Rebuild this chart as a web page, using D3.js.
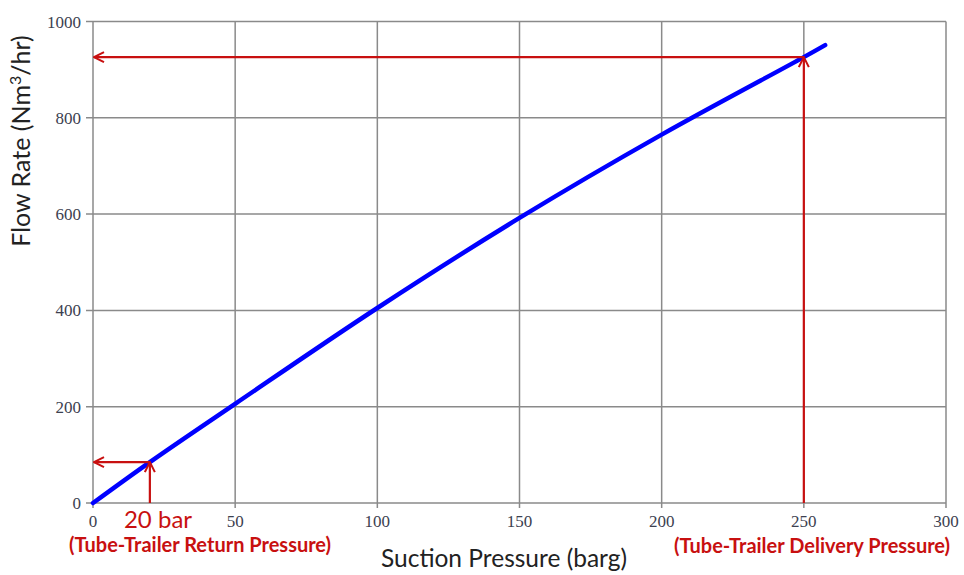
<!DOCTYPE html>
<html><head><meta charset="utf-8">
<script src="https://cdn.jsdelivr.net/npm/d3@7"></script>
<style>body{margin:0;background:#fff}</style>
</head><body>
<svg id="c" width="964" height="575"></svg>
<script>
const xTicks = [0, 50, 100, 150, 200, 250, 300];
const yTicks = [0, 200, 400, 600, 800, 1000];
const pressure = [0, 20, 50, 100, 150, 200, 250, 257.5];
const flow = [0, 85, 206, 405, 592, 765, 926, 951];
const returnP = 20, returnF = 85;
const deliveryP = 250, deliveryF = 926;

const svg = d3.select("#c");
const L = 93, R = 946, T = 21.5, B = 503;
const x = d3.scaleLinear().domain([0, 300]).range([L, R]);
const y = d3.scaleLinear().domain([0, 1000]).range([B, T]);

const defs = svg.append("defs");
defs.append("marker").attr("id","arr").attr("viewBox","0 0 12 12").attr("refX",11).attr("refY",6)
  .attr("markerWidth",12).attr("markerHeight",12).attr("markerUnits","userSpaceOnUse").attr("orient","auto")
  .append("path").attr("d","M1,1 L11,6 L1,11").attr("fill","none").attr("stroke","#c81010").attr("stroke-width",2);

const grid = svg.append("g");
grid.selectAll(".gx").data(xTicks).join("line")
  .attr("x1", d=>x(d)).attr("x2", d=>x(d)).attr("y1", T).attr("y2", B + 5)
  .attr("stroke", "#8a8a8a").attr("stroke-width", 1.5);
grid.selectAll(".gy").data(yTicks).join("line")
  .attr("x1", L - 7).attr("x2", R).attr("y1", d=>y(d)).attr("y2", d=>y(d))
  .attr("stroke", "#8a8a8a").attr("stroke-width", 1.5);

svg.append("g").selectAll("text").data(xTicks).join("text")
  .attr("x", d=>x(d)).attr("y", 527).attr("text-anchor","middle")
  .attr("font-family","Liberation Serif, serif").attr("font-size",17).attr("fill","#3c4150")
  .text(d=>d);
svg.append("g").selectAll("text").data(yTicks).join("text")
  .attr("x", 81).attr("y", d=>y(d) + 6).attr("text-anchor","end")
  .attr("font-family","Liberation Serif, serif").attr("font-size",17).attr("fill","#3c4150")
  .text(d=>d);

const pts = pressure.map((p,i)=>[p, flow[i]]);
svg.append("path").datum(pts)
  .attr("d", d3.line().x(d=>x(d[0])).y(d=>y(d[1])).curve(d3.curveCatmullRom))
  .attr("fill","none").attr("stroke","#0000ff").attr("stroke-width",4.5).attr("stroke-linecap","round");

function arrow(x1,y1,x2,y2){
  svg.append("line").attr("x1",x1).attr("y1",y1).attr("x2",x2).attr("y2",y2)
    .attr("stroke","#c81010").attr("stroke-width",2.2).attr("marker-end","url(#arr)");
}
arrow(x(deliveryP), y(deliveryF), x(0)+1, y(deliveryF));
arrow(x(deliveryP), y(0), x(deliveryP), y(deliveryF));
arrow(x(returnP), y(returnF), x(0)+1, y(returnF));
arrow(x(returnP), y(0), x(returnP), y(returnF));

svg.append("text").attr("x",158).attr("y",528).attr("text-anchor","middle")
  .attr("font-family","Lato, sans-serif").attr("font-size",24).attr("fill","#c81010").text(returnP + " bar");
svg.append("text").attr("x",200).attr("y",552).attr("text-anchor","middle")
  .attr("font-family","Lato, sans-serif").attr("font-weight","bold").attr("font-size",20).attr("fill","#c81010")
  .text("(Tube-Trailer Return Pressure)");
svg.append("text").attr("x",812).attr("y",553).attr("text-anchor","middle")
  .attr("font-family","Lato, sans-serif").attr("font-weight","bold").attr("font-size",20).attr("fill","#c81010")
  .text("(Tube-Trailer Delivery Pressure)");

svg.append("text").attr("x",504).attr("y",567).attr("text-anchor","middle")
  .attr("font-family","Lato, sans-serif").attr("font-size",24.5).attr("fill","#222")
  .text("Suction Pressure (barg)");
svg.append("text").attr("transform","translate(30,141) rotate(-90)").attr("text-anchor","middle")
  .attr("font-family","Lato, sans-serif").attr("font-size",25).attr("fill","#222")
  .html('Flow Rate (Nm<tspan baseline-shift="super" font-size="16">3</tspan>/hr)');
</script>
</body></html>
